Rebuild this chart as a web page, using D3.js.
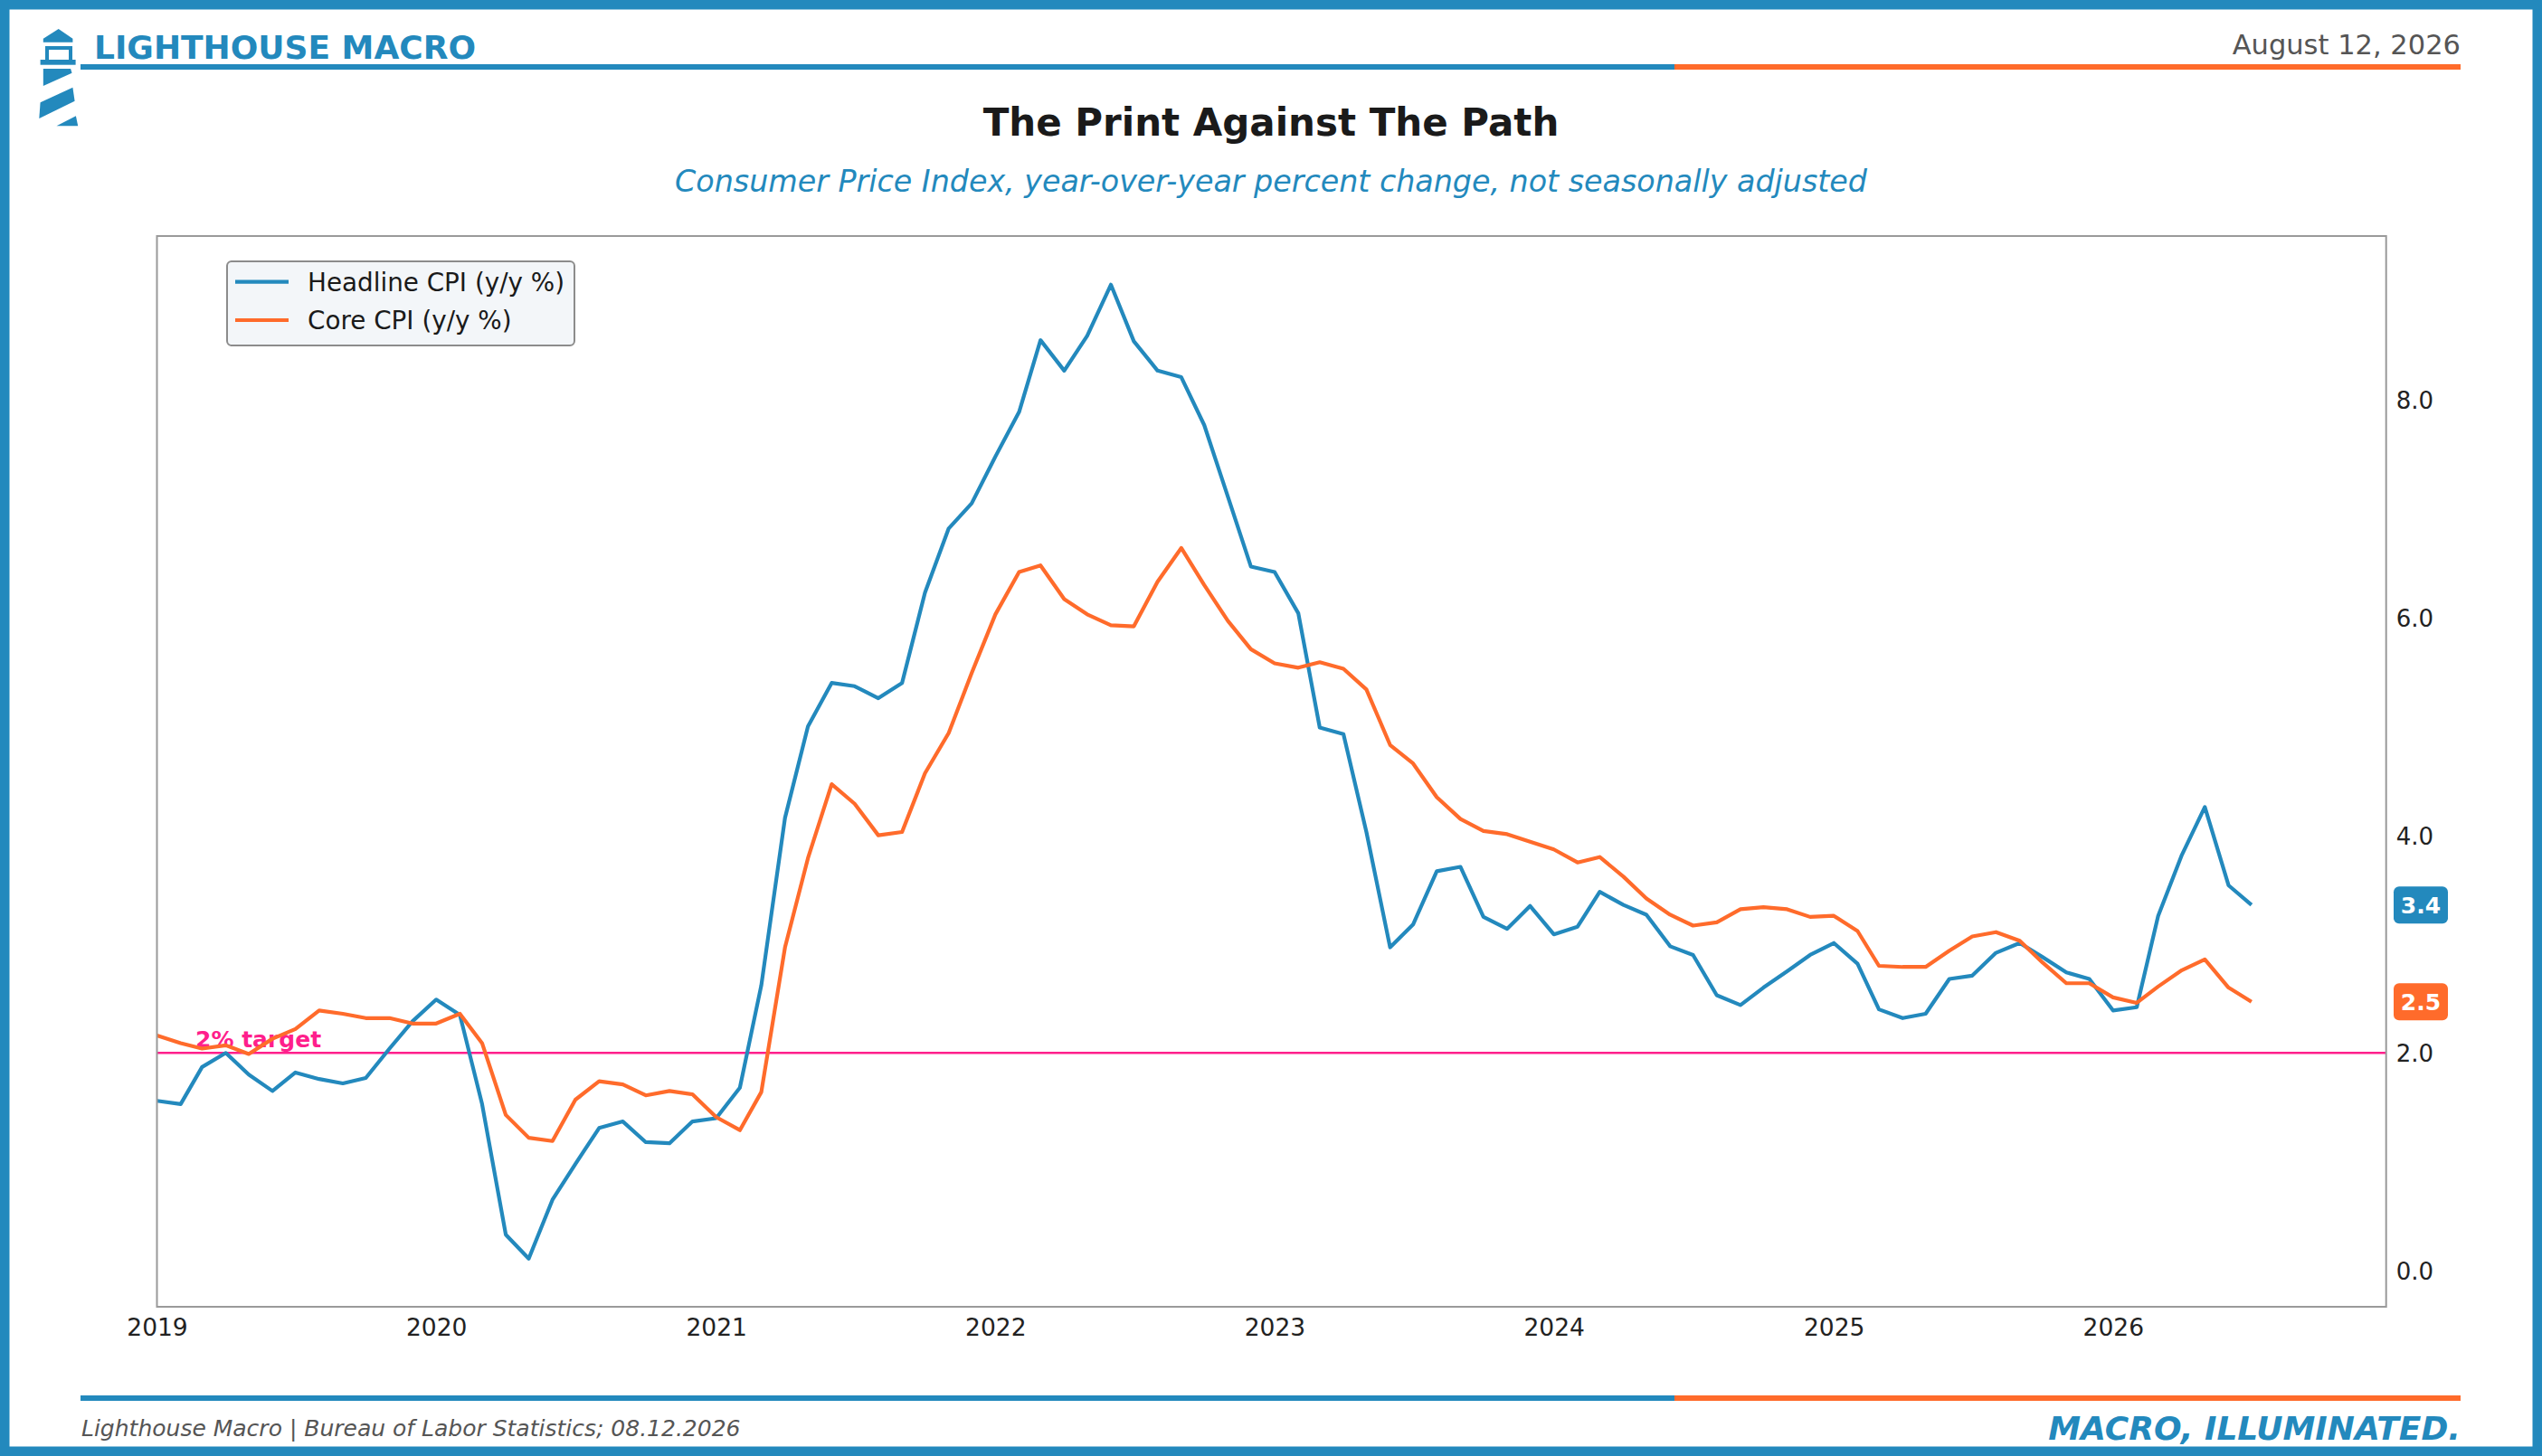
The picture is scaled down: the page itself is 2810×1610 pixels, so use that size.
<!DOCTYPE html>
<html>
<head>
<meta charset="utf-8">
<script src="https://cdn.jsdelivr.net/npm/d3@7/dist/d3.min.js"></script>
<style>
  html, body { margin: 0; padding: 0; background: #fff; }
  svg { display: block; font-family: "DejaVu Sans", sans-serif; }
</style>
</head>
<body>
<svg id="chart" width="2810" height="1610"></svg>
<script>
// ---------------- data ----------------
const startMonth = "2019-01-01";
const seriesNames = ["Headline CPI (y/y %)", "Core CPI (y/y %)"];
const headline = [
  1.56,1.53,1.87,2.00,1.80,1.65,1.82,1.76,1.72,1.77,2.04,2.29,
  2.49,2.35,1.53,0.33,0.11,0.65,0.98,1.31,1.37,1.18,1.17,1.37,
  1.40,1.68,2.62,4.16,5.00,5.40,5.37,5.26,5.40,6.23,6.82,7.05,
  7.48,7.89,8.55,8.27,8.59,9.06,8.54,8.27,8.21,7.77,7.11,6.47,
  6.42,6.04,4.99,4.93,4.03,2.97,3.18,3.67,3.71,3.25,3.14,3.35,
  3.09,3.16,3.48,3.36,3.27,2.98,2.90,2.53,2.44,2.60,2.75,2.90,
  3.01,2.82,2.40,2.32,2.36,2.68,2.71,2.92,3.01,2.88,2.74,2.68,
  2.39,2.42,3.26,3.82,4.26,3.54,3.36
];
const core = [
  2.16,2.09,2.04,2.07,1.99,2.13,2.22,2.39,2.36,2.32,2.32,2.27,
  2.27,2.36,2.09,1.43,1.22,1.19,1.57,1.74,1.71,1.61,1.65,1.62,
  1.41,1.29,1.64,2.97,3.79,4.47,4.29,4.00,4.03,4.57,4.94,5.49,
  6.03,6.42,6.48,6.17,6.03,5.93,5.92,6.33,6.64,6.30,5.97,5.71,
  5.58,5.54,5.59,5.53,5.34,4.83,4.66,4.35,4.15,4.04,4.01,3.94,
  3.87,3.75,3.80,3.62,3.42,3.27,3.17,3.20,3.32,3.34,3.32,3.25,
  3.26,3.12,2.80,2.79,2.79,2.94,3.07,3.11,3.03,2.83,2.64,2.64,
  2.51,2.46,2.61,2.76,2.86,2.60,2.47
];
const targetValue = 2.0;
const yearTicks = [2019, 2020, 2021, 2022, 2023, 2024, 2025, 2026];
const yTicks = [0, 2, 4, 6, 8];

// ---------------- style ----------------
const BLUE = "#2389BD";
const ORANGE = "#FF6B2B";
const PINK = "#FF1F8C";

const svg = d3.select("#chart");
const W = 2810, H = 1610;

const months = d3.range(headline.length).map(i => d3.utcMonth.offset(new Date(startMonth + "T00:00:00Z"), i));

// ---------------- frame ----------------
svg.append("rect").attr("x", 0).attr("y", 0).attr("width", W).attr("height", H).attr("fill", "#fff");
const bw = 10.5;
svg.append("rect").attr("x", bw / 2).attr("y", bw / 2).attr("width", W - bw).attr("height", H - bw)
  .attr("fill", "none").attr("stroke", BLUE).attr("stroke-width", bw);

// ---------------- header ----------------
const logo = svg.append("g").attr("fill", BLUE);
logo.append("path").attr("d", "M47.8,42.7 L64.7,32 L80.4,42.7 L80.4,46.7 L47.8,46.7 Z");
logo.append("path").attr("d", "M50,51 L80,51 L80,67 L76,67 L76,55 L54,55 L54,67 L50,67 Z");
logo.append("rect").attr("x", 44.6).attr("y", 66).attr("width", 39).attr("height", 5.7);
logo.append("path").attr("d", "M47.8,76 L78.1,76 L79.5,80.7 L47.8,95 Z");
logo.append("path").attr("d", "M44.6,113.3 L80.4,96.7 L82.6,111.7 L43.3,131 Z");
logo.append("path").attr("d", "M62.5,139.3 L83.9,128.3 L86.2,139.3 Z");

svg.append("text").attr("x", 104).attr("y", 65).attr("fill", BLUE)
  .attr("font-size", 36).attr("font-weight", "bold").text("LIGHTHOUSE MACRO");
svg.append("text").attr("x", 2720).attr("y", 60).attr("fill", "#555").attr("text-anchor", "end")
  .attr("font-size", 30.5).text("August 12, 2026");

const ruleX0 = 89, ruleSplit = 1851, ruleX1 = 2720;
function rule(y) {
  svg.append("rect").attr("x", ruleX0).attr("y", y).attr("width", ruleSplit - ruleX0).attr("height", 6).attr("fill", BLUE);
  svg.append("rect").attr("x", ruleSplit).attr("y", y).attr("width", ruleX1 - ruleSplit).attr("height", 6).attr("fill", ORANGE);
}
rule(71);
rule(1543);

svg.append("text").attr("x", 1405).attr("y", 150).attr("text-anchor", "middle")
  .attr("font-size", 42).attr("font-weight", "bold").attr("fill", "#1a1a1a")
  .text("The Print Against The Path");
svg.append("text").attr("x", 1405).attr("y", 212).attr("text-anchor", "middle")
  .attr("font-size", 33.3).attr("font-style", "italic").attr("fill", BLUE)
  .text("Consumer Price Index, year-over-year percent change, not seasonally adjusted");

// ---------------- plot ----------------
const plot = { left: 173.5, right: 2637.7, top: 261, bottom: 1445 };

const x = d3.scaleUtc()
  .domain([new Date("2019-01-01T00:00:00Z"), new Date("2026-12-24T00:00:00Z")])
  .range([plot.left, plot.right]);
const y = d3.scaleLinear().domain([-0.333, 9.507]).range([plot.bottom, plot.top]);

// target line
svg.append("line").attr("x1", plot.left).attr("x2", plot.right)
  .attr("y1", y(targetValue)).attr("y2", y(targetValue))
  .attr("stroke", PINK).attr("stroke-width", 2.6);
svg.append("text").attr("x", 216).attr("y", y(targetValue) - 6)
  .attr("font-size", 25).attr("font-weight", "bold").attr("fill", PINK).text("2% target");

const line = d3.line().x((d, i) => x(months[i])).y(d => y(d));

svg.append("path").datum(headline).attr("d", line).attr("fill", "none")
  .attr("stroke", BLUE).attr("stroke-width", 4.2).attr("stroke-linejoin", "round");
svg.append("path").datum(core).attr("d", line).attr("fill", "none")
  .attr("stroke", ORANGE).attr("stroke-width", 4.2).attr("stroke-linejoin", "round");

// box
svg.append("rect").attr("x", plot.left).attr("y", plot.top)
  .attr("width", plot.right - plot.left).attr("height", plot.bottom - plot.top)
  .attr("fill", "none").attr("stroke", "#9a9a9a").attr("stroke-width", 2);

// x axis
const xAxis = d3.axisBottom(x)
  .tickValues(yearTicks.map(yr => new Date(Date.UTC(yr, 0, 1))))
  .tickFormat(d3.utcFormat("%Y")).tickSize(0).tickPadding(0);
const gx = svg.append("g").attr("transform", `translate(0,${plot.bottom})`).call(xAxis);
gx.select(".domain").remove();
gx.selectAll("text").attr("font-size", 26.5).attr("font-family", "DejaVu Sans")
  .attr("fill", "#222").attr("dy", null).attr("y", 32);

// y axis (right)
const yAxis = d3.axisRight(y).tickValues(yTicks).tickFormat(d3.format(".1f")).tickSize(0).tickPadding(0);
const gy = svg.append("g").attr("transform", `translate(${plot.right},0)`).call(yAxis);
gy.select(".domain").remove();
gy.selectAll("text").attr("font-size", 26).attr("font-family", "DejaVu Sans")
  .attr("fill", "#222").attr("x", 11).attr("dy", "0.36em");

// end-value badges
[[headline, BLUE], [core, ORANGE]].forEach(([s, c]) => {
  const v = s[s.length - 1];
  const cy = y(v);
  svg.append("rect").attr("x", 2646).attr("y", cy - 20.5).attr("width", 60).attr("height", 41)
    .attr("rx", 6).attr("fill", c);
  svg.append("text").attr("x", 2676).attr("y", cy).attr("dy", "0.36em").attr("text-anchor", "middle")
    .attr("font-size", 25).attr("font-weight", "bold").attr("fill", "#fff").text(d3.format(".1f")(v));
});

// legend
const lg = svg.append("g");
lg.append("rect").attr("x", 251).attr("y", 289).attr("width", 384).attr("height", 93)
  .attr("rx", 5).attr("fill", "#F3F6F9").attr("stroke", "#8c8c8c").attr("stroke-width", 2);
[[seriesNames[0], BLUE, 311.7], [seriesNames[1], ORANGE, 354]].forEach(([name, c, ly]) => {
  lg.append("line").attr("x1", 260).attr("x2", 319).attr("y1", ly).attr("y2", ly)
    .attr("stroke", c).attr("stroke-width", 4.2);
  lg.append("text").attr("x", 340).attr("y", ly + 10).attr("font-size", 27.8).attr("fill", "#1a1a1a").text(name);
});

// ---------------- footer ----------------
svg.append("text").attr("x", 90).attr("y", 1588).attr("font-size", 25).attr("font-style", "italic")
  .attr("fill", "#555").text("Lighthouse Macro | Bureau of Labor Statistics; 08.12.2026");
svg.append("text").attr("x", 2720).attr("y", 1592).attr("text-anchor", "end").attr("font-size", 36)
  .attr("font-weight", "bold").attr("font-style", "italic").attr("fill", BLUE).text("MACRO, ILLUMINATED.");
</script>
</body>
</html>
